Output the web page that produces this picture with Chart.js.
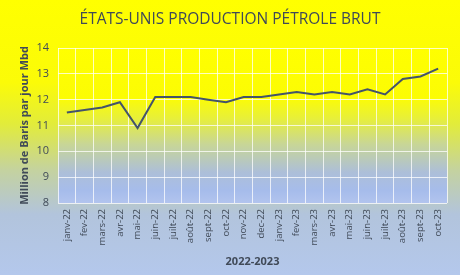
<!DOCTYPE html>
<html>
<head>
<meta charset="utf-8">
<script src="https://cdn.jsdelivr.net/npm/chart.js@4.4.1/dist/chart.umd.min.js"></script>
<style>
  html, body { margin: 0; padding: 0; background: #ffff00; }
  #wrap { width: 460px; height: 275px; }
</style>
</head>
<body>
<div id="wrap"><canvas id="prodChart" width="460" height="275"></canvas></div>
<script>
/* ---------------------------
   Data
--------------------------- */
const months = [
  "janv-22", "fev-22", "mars-22", "avr-22", "mai-22", "juin-22", "juilt-22",
  "août-22", "sept-22", "oct-22", "nov-22", "dec-22", "janv-23", "fev-23",
  "mars-23", "avr-23", "mai-23", "juin-23", "juilt-23", "août-23", "sept-23", "oct-23"
];
const production = [
  11.5, 11.6, 11.7, 11.9, 10.9, 12.1, 12.1, 12.1, 12.0, 11.9, 12.1,
  12.1, 12.2, 12.3, 12.2, 12.3, 12.2, 12.4, 12.2, 12.8, 12.9, 13.2
];
const yTicks = [8, 9, 10, 11, 12, 13, 14];
const chartTitle = "ÉTATS-UNIS PRODUCTION PÉTROLE BRUT";

const textColor = "#404a58";
const fontFamily = "'Open Sans', 'Noto Sans', sans-serif";

/* ---------------------------
   Background gradients + centred title
--------------------------- */
const bgPlugin = {
  id: "bgGradients",
  beforeDraw(chart) {
    const { ctx, width, height, chartArea: a } = chart;
    ctx.save();
    const g = ctx.createLinearGradient(0, 0, 0, height);
    g.addColorStop(0, "#ffff00");
    g.addColorStop(0.3, "#fbfb08");
    g.addColorStop(0.45, "#e2ec3a");
    g.addColorStop(0.62, "#c4d2a0");
    g.addColorStop(0.78, "#b2c4dc");
    g.addColorStop(1, "#b4c8ec");
    ctx.fillStyle = g;
    ctx.fillRect(0, 0, width, height);

    const p = ctx.createLinearGradient(0, a.top, 0, a.bottom);
    p.addColorStop(0, "#ffff00");
    p.addColorStop(0.32, "#fcfc04");
    p.addColorStop(0.45, "#e8f038");
    p.addColorStop(0.62, "#c8d696");
    p.addColorStop(0.8, "#adbfd8");
    p.addColorStop(0.92, "#a6bceb");
    p.addColorStop(1, "#b2c4ee");
    ctx.fillStyle = p;
    ctx.fillRect(a.left, a.top, a.right - a.left, a.bottom - a.top);

    ctx.fillStyle = textColor;
    ctx.font = "15.5px " + fontFamily;
    ctx.textAlign = "center";
    ctx.textBaseline = "middle";
    ctx.fillText(chartTitle, width / 2, 20);
    ctx.restore();
  }
};

/* ---------------------------
   Chart
--------------------------- */
const ctx = document.getElementById("prodChart").getContext("2d");

new Chart(ctx, {
  type: "line",
  data: {
    labels: months,
    datasets: [{
      data: production,
      borderColor: "#44546a",
      borderWidth: 2,
      tension: 0,
      pointRadius: 0,
      fill: false
    }]
  },
  options: {
    responsive: false,
    animation: false,
    layout: { padding: { left: 18, right: 13, top: 48, bottom: 7 } },
    plugins: {
      legend: { display: false },
      tooltip: { enabled: false },
      title: { display: false }
    },
    scales: {
      x: {
        offset: true,
        grid: { offset: true, color: "rgba(255,255,255,0.75)", lineWidth: 1, drawTicks: false },
        border: { display: false },
        ticks: {
          color: textColor,
          font: { family: fontFamily, size: 9.5 },
          minRotation: 90,
          maxRotation: 90,
          autoSkip: false,
          padding: 6
        },
        title: {
          display: true,
          text: "2022-2023",
          color: textColor,
          font: { family: fontFamily, size: 11, weight: "bold" },
          padding: { top: 4, bottom: 0 }
        },
        afterFit(scale) { scale.height = 65; }
      },
      y: {
        min: yTicks[0],
        max: yTicks[yTicks.length - 1],
        afterBuildTicks(scale) { scale.ticks = yTicks.map(v => ({ value: v })); },
        grid: { color: "rgba(255,255,255,0.75)", lineWidth: 1, drawTicks: false },
        border: { display: false },
        ticks: {
          color: textColor,
          font: { family: fontFamily, size: 11 },
          padding: 9
        },
        title: {
          display: true,
          text: "Million de Baris par jour Mbd",
          color: textColor,
          font: { family: fontFamily, size: 11, weight: "bold" },
          padding: { top: 0, bottom: 2 }
        },
        afterFit(scale) { scale.width = 40; }
      }
    }
  },
  plugins: [bgPlugin]
});
</script>
</body>
</html>
